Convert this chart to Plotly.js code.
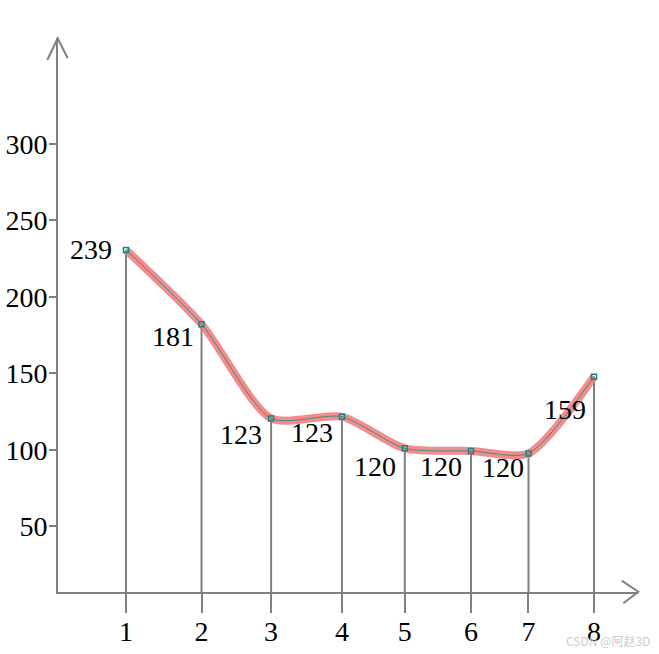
<!DOCTYPE html>
<html>
<head>
<meta charset="utf-8">
<script src="https://cdn.plot.ly/plotly-3.0.1.min.js"></script>
<style>html,body{margin:0;padding:0;background:#fff;}#chart{width:659px;height:654px;}</style>
</head>
<body>
<div id="chart"></div>
<script>
// Categories (x tick labels) and the positions where they are drawn
const categories = ['1', '2', '3', '4', '5', '6', '7', '8'];
const xPos = [1, 2.13, 3.17, 4.23, 5.17, 6.16, 7.02, 8];
// Heights of the points as drawn against the y axis
const heights = [230.7, 182.1, 120.5, 121.6, 100.9, 99.2, 97.6, 147.8];
// Value labels printed next to the points
const labels = ['239', '181', '123', '123', '120', '120', '120', '159'];
// Y axis tick values
const yTicks = [50, 100, 150, 200, 250, 300];

const yMin = 6.9, yMax = 369.4;
const xMin = -0.017, xMax = 8.658;

const W = 659, H = 654;
const M = {l: 58, r: 21, t: 38, b: 62};
const PW = W - M.l - M.r, PH = H - M.t - M.b;
const px = x => (x - M.l) / PW;
const py = y => (H - M.b - y) / PH;

const serif = {family: 'Liberation Serif, DejaVu Serif, serif', size: 28, color: '#000'};
const grey = '#808080';

// label placement (pixel shifts relative to each point), styling only
const labelShift = [[-12, 0], [-6, -12], [-7, -16], [-7, -16], [-7, -18], [-7, -16], [-2, -14], [-6, -33]];

// vertical drop lines from each point
const dropX = [], dropY = [];
xPos.forEach((x, i) => { dropX.push(x, x, null); dropY.push(heights[i], yMin, null); });

const traces = [
  {x: dropX, y: dropY, mode: 'lines', line: {color: grey, width: 2}, hoverinfo: 'skip', showlegend: false},
  {x: xPos, y: heights, mode: 'lines', line: {color: 'rgba(242,110,110,0.8)', width: 8, shape: 'spline', smoothing: 0.7},
   hoverinfo: 'skip', showlegend: false},
  {x: xPos, y: heights, mode: 'lines+markers',
   line: {color: '#3f8c8c', width: 1, shape: 'spline', smoothing: 0.7},
   marker: {symbol: 'square-open', size: 5, color: '#1a8585', line: {width: 1.5}},
   showlegend: false}
];

const arrowUp = `M ${px(47.3)} ${py(60)} L ${px(57.7)} ${py(38.3)} L ${px(67.7)} ${py(58.3)}`;
const arrowRight = `M ${px(621.7)} ${py(580.7)} L ${px(638.3)} ${py(591.7)} L ${px(623.3)} ${py(603.3)}`;

const valueAnnotations = labels.map((t, i) => ({
  x: xPos[i], y: heights[i], xref: 'x', yref: 'y', text: t, showarrow: false,
  xanchor: 'right', yanchor: 'middle', xshift: labelShift[i][0], yshift: labelShift[i][1],
  font: serif
}));

const layout = {
  width: W, height: H,
  margin: M,
  paper_bgcolor: '#fff', plot_bgcolor: '#fff',
  showlegend: false,
  xaxis: {
    range: [xMin, xMax], showgrid: false, zeroline: false,
    showline: true, linecolor: grey, linewidth: 2,
    tickvals: xPos, ticktext: categories,
    ticks: 'outside', ticklen: 19, tickwidth: 2, tickcolor: grey,
    tickfont: serif, ticklabelstandoff: -6
  },
  yaxis: {
    range: [yMin, yMax], showgrid: false, zeroline: false,
    showline: true, linecolor: grey, linewidth: 2,
    tickvals: yTicks, ticktext: yTicks.map(String),
    ticks: 'outside', ticklen: 7, tickwidth: 2, tickcolor: grey,
    tickfont: serif, ticklabelstandoff: -4
  },
  shapes: [
    {type: 'path', xref: 'paper', yref: 'paper', path: arrowUp, line: {color: grey, width: 2}},
    {type: 'path', xref: 'paper', yref: 'paper', path: arrowRight, line: {color: grey, width: 2}}
  ],
  annotations: valueAnnotations.concat([
    {xref: 'paper', yref: 'paper', x: px(608), y: py(640), text: 'CSDN @阿赵3D', showarrow: false,
     xanchor: 'center', yanchor: 'middle',
     font: {family: 'Noto Sans CJK SC, sans-serif', size: 12, color: '#cccccc'}}
  ])
};

Plotly.newPlot('chart', traces, layout, {staticPlot: true, displayModeBar: false});
</script>
</body>
</html>
